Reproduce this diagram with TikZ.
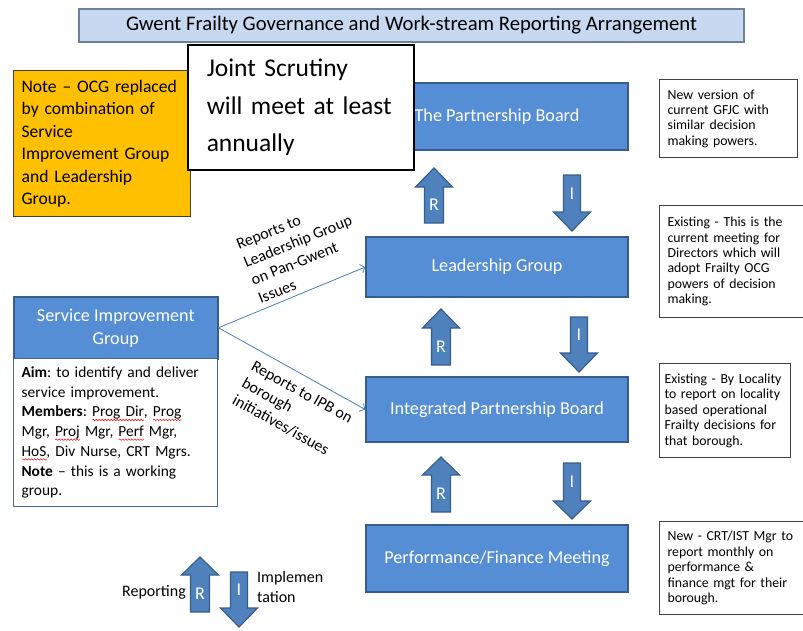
\documentclass[tikz,border=0pt]{standalone}
\usepackage{fontspec}
\setmainfont{Carlito}
\usetikzlibrary{arrows.meta,decorations.pathmorphing}
\frenchspacing

\definecolor{boxblue}{RGB}{85,142,213}
\definecolor{boxedge}{RGB}{56,93,138}
\definecolor{arrblue}{RGB}{79,129,189}
\definecolor{arredge}{RGB}{56,93,138}
\definecolor{titlefill}{RGB}{198,217,241}
\definecolor{titleedge}{RGB}{110,128,155}
\definecolor{noteorange}{RGB}{255,192,0}
\definecolor{linkblue}{RGB}{74,126,187}
\definecolor{txtedge}{RGB}{64,64,64}

\newsavebox\spbox
\newcommand\spellerr[1]{\leavevmode\sbox\spbox{#1}\rlap{\tikz[baseline=0pt]\draw[red, line width=0.5pt, decorate, decoration={snake, amplitude=0.7pt, segment length=3pt}] (0pt,-3pt) -- (\wd\spbox,-3pt);}\usebox\spbox}

\newcommand\blkup[4]{% x, tip y, head-base y, bottom y
  \draw[blockarr] (#1-9.5,#4) -- (#1-9.5,#3) -- (#1-18.5,#3) -- (#1,#2) -- (#1+18.5,#3) -- (#1+9.5,#3) -- (#1+9.5,#4) -- cycle;}
\newcommand\blkdown[4]{% x, top y, head-base y, tip y
  \draw[blockarr] (#1-8.5,#2) -- (#1-8.5,#3) -- (#1-18.5,#3) -- (#1,#4) -- (#1+18.5,#3) -- (#1+8.5,#3) -- (#1+8.5,#2) -- cycle;}

\tikzset{
  bluebox/.style={draw=boxedge, fill=boxblue, line width=1.5pt, text=white, align=center,
    font=\fontsize{18.2}{23}\selectfont, inner sep=2pt},
  blockarr/.style={draw=arredge, fill=arrblue, line width=1.2pt, line join=miter},
  arrlbl/.style={text=white, font=\fontsize{18}{20}\selectfont, inner sep=0pt},
  txtbox/.style={draw=txtedge, fill=white, line width=1.2pt, align=left, anchor=north west,
    inner xsep=8pt, font=\fontsize{13.8}{15.4}\selectfont},
  link/.style={draw=linkblue, line width=0.8pt, -{Straight Barb[length=4pt,width=9pt]}},
  lbl/.style={inner sep=0pt, align=left, font=\fontsize{16}{19.4}\selectfont},
}

\begin{document}
\begin{tikzpicture}[x=1pt,y=-1pt]
\useasboundingbox (0,0) rectangle (803,630);
\clip (0,0) rectangle (803,630);

% main blue boxes
\node[bluebox, minimum width=262pt, minimum height=67pt] (pb) at (497,116.5) {The Partnership Board};
\node[bluebox, minimum width=262pt, minimum height=60pt] (lg) at (497,267) {Leadership Group};
\node[bluebox, minimum width=262pt, minimum height=65pt] (ipb) at (497,409.5) {Integrated Partnership Board};
\node[bluebox, minimum width=262pt, minimum height=67pt] (pf) at (497,558.5) {Performance/Finance Meeting};

% R / I block arrows
\blkup{434}{168}{187}{223}
\node[arrlbl] (r1) at (434,205) {R};
\blkdown{572}{175}{212}{231}
\node[arrlbl] (i1) at (572,194) {I};

\blkup{441}{309}{328}{365}
\node[arrlbl] (r2) at (441,347) {R};
\blkdown{579}{317}{353}{372}
\node[arrlbl] (i2) at (579,335) {I};

\blkup{441}{457}{475}{512}
\node[arrlbl] (r3) at (441,494) {R};
\blkdown{572}{463}{501}{519}
\node[arrlbl] (i3) at (572,482) {I};

% legend
\blkup{200}{557}{575}{612}
\node[arrlbl] (rl) at (200,594) {R};
\blkdown{239}{572}{608}{627}
\node[arrlbl] (il) at (239,590) {I};
\node[lbl, anchor=east] (reporting) at (186,592) {Reporting};
\node[lbl, anchor=west] (implem) at (257,587) {Implemen\\tation};

% orange note
\node[draw=txtedge, fill=noteorange, line width=1.2pt, anchor=north west, minimum width=177pt,
  minimum height=146pt, inner xsep=8pt, text width=161pt, align=left,
  font=\fontsize{17.6}{22.5}\selectfont] (note) at (13,70)
  {Note -- OCG replaced\\by combination of\\Service\\Improvement Group\\and Leadership\\Group.};

% joint scrutiny
\node[draw=black, fill=white, line width=1.5pt, anchor=north west, minimum width=226pt,
  minimum height=125pt, inner xsep=19pt, text width=188pt, align=left,
  font=\fontsize{25.5}{37.5}\selectfont] (js) at (187,44)
  {Joint Scrutiny\\will meet at least\\annually};

% title
\node[draw=titleedge, fill=titlefill, line width=1.2pt, minimum width=665pt, minimum height=33pt,
  font=\fontsize{20.7}{22}\selectfont] (title) at (411.5,25.5)
  {Gwent Frailty Governance and Work-stream Reporting Arrangement};

% right text boxes
\node[txtbox, minimum width=138pt, minimum height=78pt, text width=122pt] (rb1) at (659,79)
  {New version of\\current GFJC with\\similar decision\\making powers.};
\node[txtbox, minimum width=150pt, minimum height=112pt, text width=134pt] (rb2) at (659,205)
  {Existing - This is the\\current meeting for\\Directors which will\\adopt Frailty OCG\\powers of decision\\making.};
\node[txtbox, minimum width=131pt, minimum height=94pt, inner xsep=5pt, text width=121pt] (rb3) at (659,363)
  {Existing - By Locality\\to report on locality\\based operational\\Frailty decisions for\\that borough.};
\node[txtbox, minimum width=150pt, minimum height=93pt, text width=134pt] (rb4) at (659,521)
  {New - CRT/IST Mgr to\\report monthly on\\performance \&\\finance mgt for their\\borough.};

% service improvement group
\node[bluebox, anchor=north west, minimum width=204pt, minimum height=62pt] (sig) at (13,296)
  {Service Improvement\\Group};
\node[draw=boxedge!70!gray, fill=white, line width=1.2pt, anchor=north west, minimum width=204pt,
  minimum height=148pt, inner xsep=8pt, text width=188pt, align=left,
  font=\fontsize{15.4}{19.7}\selectfont] (sigbody) at (13,358)
  {\textbf{Aim}: to identify and deliver\\service improvement.\\\textbf{Members}: \spellerr{Prog Dir}, \spellerr{Prog}\\Mgr, \spellerr{Proj} Mgr, \spellerr{Perf} Mgr,\\\spellerr{HoS}, Div Nurse, CRT Mgrs.\\\textbf{Note} -- this is a working\\group.};

% connectors
\draw[link] (sig.east) -- (lg.west);
\draw[link] (sig.east) -- (ipb.west);
\node[lbl, rotate=22, anchor=west] (lab1) at (248,272) {Reports to\\Leadership Group\\on Pan-Gwent\\Issues};
\node[lbl, rotate=-29, anchor=west] (lab2) at (243,382) {Reports to IPB on\\borough\\initiatives/issues};
\end{tikzpicture}
\end{document}
